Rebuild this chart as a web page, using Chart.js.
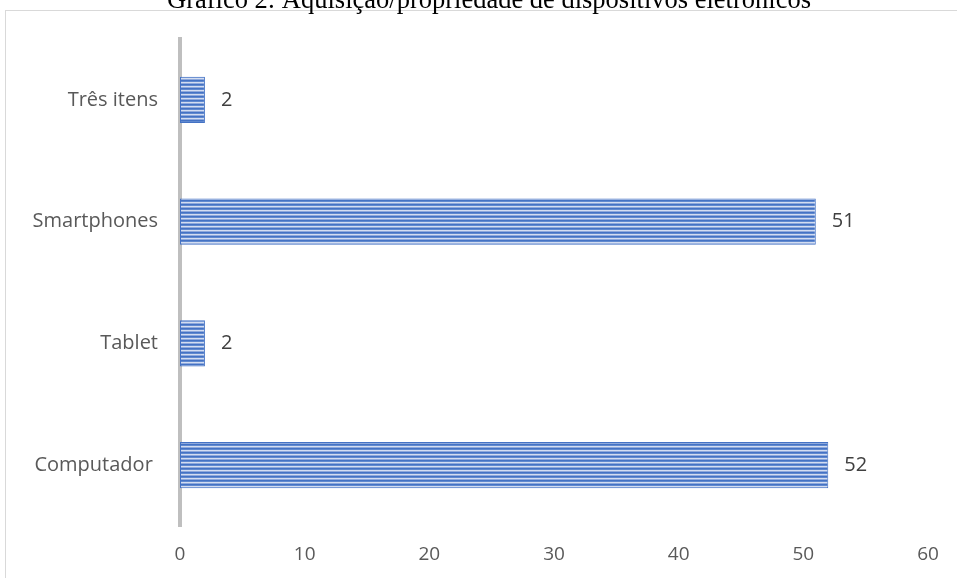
<!DOCTYPE html>
<html>
<head>
<meta charset="utf-8">
<script src="https://cdn.jsdelivr.net/npm/chart.js@4"></script>
<style>
  html, body { margin: 0; padding: 0; background: #fff; overflow: hidden; }
  #wrap { position: relative; width: 957px; height: 578px; }
  #frame { position: absolute; left: 5px; top: 10px; width: 960px; height: 600px;
           border-left: 1px solid #d9d9d9; border-top: 1px solid #d9d9d9; }
  #chart { position: absolute; left: 0; top: 0; }
</style>
</head>
<body>
<div id="wrap">
  <div id="frame"></div>
  <canvas id="chart" width="957" height="578"></canvas>
</div>
<script>
(function () {
  "use strict";

  var titleText = 'Gráfico 2: Aquisição/propriedade de dispositivos eletrônicos';
  var categories = ['Computador ', 'Tablet', 'Smartphones', 'Três itens'];
  var quantities = [52, 2, 51, 2];
  var xTicks = [0, 10, 20, 30, 40, 50, 60];

  /*----------------------------------------*/
  /*  striped fill for the bars
  /*----------------------------------------*/
  function stripes() {
    var c = document.createElement('canvas');
    c.width = 4; c.height = 4;
    var g = c.getContext('2d');
    var rows = ['#4472c4', '#6089cf', '#d3ddf1', '#8ea9dc'];
    rows.forEach(function (col, i) {
      g.fillStyle = col;
      g.fillRect(0, i, 4, 1);
    });
    return g.createPattern(c, 'repeat');
  }

  // title sits half outside the top of the frame
  var titlePlugin = {
    id: 'topTitle',
    afterDraw: function (chart) {
      var ctx = chart.ctx;
      ctx.save();
      ctx.font = '26.5px "Liberation Serif", "Times New Roman", serif';
      ctx.fillStyle = '#000';
      ctx.textAlign = 'center';
      ctx.textBaseline = 'alphabetic';
      ctx.fillText(titleText, 489, 8);
      ctx.restore();
    }
  };

  // value printed just past the end of each bar
  var valuePlugin = {
    id: 'barValues',
    afterDatasetsDraw: function (chart) {
      var ctx = chart.ctx;
      var meta = chart.getDatasetMeta(0);
      ctx.save();
      ctx.font = '20px "Open Sans", sans-serif';
      ctx.fillStyle = '#404040';
      ctx.textAlign = 'left';
      ctx.textBaseline = 'middle';
      meta.data.forEach(function (bar, i) {
        ctx.fillText(String(quantities[i]), bar.x + 16, bar.y);
      });
      ctx.restore();
    }
  };

  var ctx = document.getElementById('chart');
  var devicesChart = new Chart(ctx, {
    type: 'bar',
    data: {
      labels: categories,
      datasets: [{
        label: 'Dispositivos',
        data: quantities,
        backgroundColor: stripes(),
        borderColor: '#4472c4',
        borderWidth: 1,
        borderSkipped: false,
        categoryPercentage: 1,
        barPercentage: 0.38
      }]
    },
    options: {
      indexAxis: 'y',
      responsive: false,
      animation: false,
      layout: { padding: { left: 0, right: 29, top: 39, bottom: 0 } },
      plugins: {
        legend: { display: false },
        tooltip: { enabled: false }
      },
      scales: {
        x: {
          min: 0,
          max: 60,
          afterBuildTicks: function (s) {
            s.ticks = xTicks.map(function (v) { return { value: v }; });
          },
          afterFit: function (s) { s.height = 52; },
          grid: { display: false, drawTicks: false },
          border: { display: false },
          ticks: {
            padding: 17,
            color: '#595959',
            font: { family: '"Open Sans", sans-serif', size: 19 }
          }
        },
        y: {
          reverse: true,
          afterFit: function (s) { s.width = 180; },
          grid: { display: false, drawTicks: false },
          border: { display: true, color: '#bfbfbf', width: 4 },
          ticks: {
            padding: 22,
            color: '#595959',
            font: { family: '"Open Sans", sans-serif', size: 20 }
          }
        }
      }
    },
    plugins: [valuePlugin, titlePlugin]
  });
})();
</script>
</body>
</html>
